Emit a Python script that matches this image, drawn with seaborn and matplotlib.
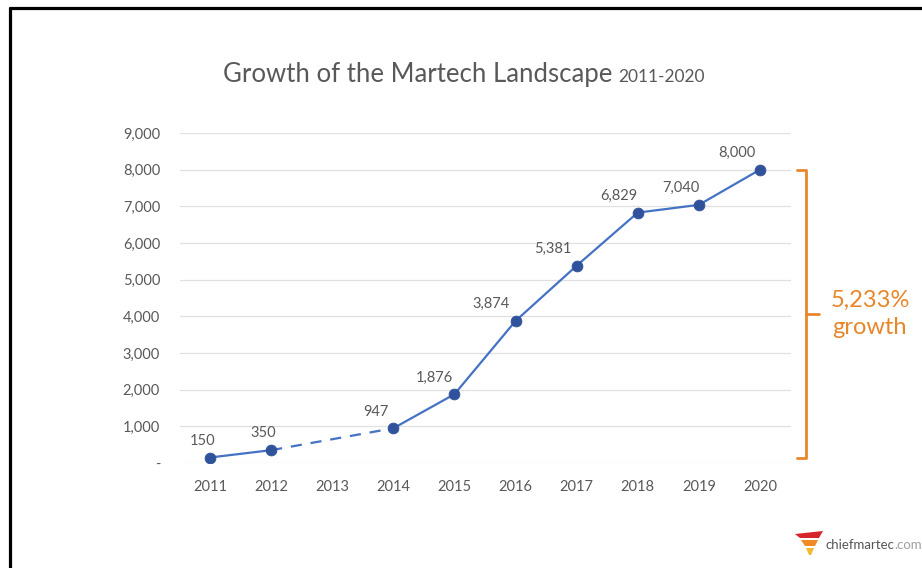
import numpy as np
import pandas as pd
import matplotlib
matplotlib.use("Agg")
import matplotlib.pyplot as plt
import seaborn as sns
from matplotlib.lines import Line2D
from matplotlib.patches import Polygon

# ─────────────────────────────────────────
# DATA
# ─────────────────────────────────────────
years = [2011, 2012, 2013, 2014, 2015, 2016, 2017, 2018, 2019, 2020]
solutions = [150, 350, np.nan, 947, 1876, 3874, 5381, 6829, 7040, 8000]
y_ticks = [0, 1000, 2000, 3000, 4000, 5000, 6000, 7000, 8000, 9000]
y_tick_labels = ["-", "1,000", "2,000", "3,000", "4,000", "5,000",
                 "6,000", "7,000", "8,000", "9,000"]
growth_label = "5,233%\ngrowth"

# label x offsets (px) so the numbers sit up-left of the dots
label_dx = [-7, -8, 0, -17, -20, -25, -24, -19, -18, -23]

df = pd.DataFrame({"year": years, "count": solutions})
# 2013 is missing -> two solid runs, joined by a dashed bridge
df["run"] = df["count"].isna().cumsum()
known = df.dropna()

# ─────────────────────────────────────────
# STYLE
# ─────────────────────────────────────────
sns.set_theme(style="white")
plt.rcParams["font.family"] = ["Lato", "DejaVu Sans"]

LINE = "#4472C4"
DOT = "#2F529B"
GREY = "#595959"
ORANGE = "#E8862A"

fig = plt.figure(figsize=(9.22, 5.68), dpi=100)
ax = fig.add_axes([179.5 / 922, 105 / 568, 611 / 922, 330 / 568])

sns.lineplot(data=known, x="year", y="count", units="run",
             estimator=None, ax=ax, color=LINE, linewidth=1.6, zorder=3)
bridge = known[known["year"].isin([2012, 2014])]
sns.lineplot(data=bridge, x="year", y="count", ax=ax, color=LINE,
             linewidth=1.6, linestyle=(0, (5, 4)), zorder=3)
sns.scatterplot(data=known, x="year", y="count", ax=ax, color=DOT,
                s=60, edgecolor=DOT, zorder=4)

for yr, val, dx in zip(years, solutions, label_dx):
    if np.isnan(val):
        continue
    ax.annotate(f"{int(val):,}", (yr, val), xytext=(dx * 0.72, 7),
                textcoords="offset points", ha="center", va="bottom",
                fontsize=10.5, color=GREY)

ax.set_xlim(years[0] - 0.5, years[-1] + 0.5)
ax.set_ylim(0, 9000)
ax.set_xticks(years)
ax.set_xticklabels([str(y) for y in years], fontsize=10.5, color=GREY)
ax.set_yticks(y_ticks)
ax.set_yticklabels(y_tick_labels, fontsize=10.5, color=GREY)
ax.tick_params(axis="both", length=0, pad=12)
ax.tick_params(axis="y", pad=14)
ax.grid(axis="y", color="#E0E0E0", linewidth=0.9)
ax.set_axisbelow(True)
ax.set_xlabel("")
ax.set_ylabel("")
for s in ax.spines.values():
    s.set_visible(False)

# orange brace from first value to last value
lo, hi = solutions[0], solutions[-1]
mid = (lo + hi) / 2
bx = years[-1] + 0.75
ax.plot([bx - 0.15, bx, bx, bx - 0.15], [hi, hi, lo, lo], color=ORANGE,
        linewidth=2, clip_on=False, solid_joinstyle="round")
ax.plot([bx, bx + 0.22], [mid, mid], color=ORANGE, linewidth=2,
        clip_on=False)
ax.text(years[-1] + 1.8, mid, growth_label, ha="center", va="center",
        fontsize=17, color=ORANGE, linespacing=1.35, clip_on=False)

# title
fig.text(612 / 922, 1 - 82 / 568, "Growth of the Martech Landscape",
         ha="right", va="baseline", fontsize=18.5, color=GREY)
fig.text(618 / 922, 1 - 82 / 568, "2011-2020", ha="left",
         va="baseline", fontsize=12.5, color=GREY)

# slide frame
fig.add_artist(Line2D([9.5 / 922, 1], [1 - 7.5 / 568, 1 - 7.5 / 568],
                      color="black", linewidth=2.3,
                      transform=fig.transFigure))
fig.add_artist(Line2D([9.5 / 922, 9.5 / 922], [0, 1 - 7.5 / 568],
                      color="black", linewidth=2.3,
                      transform=fig.transFigure))

# chiefmartec logo
def px(x, y):
    return (x / 922, 1 - y / 568)

for pts, col in [
    ([(795, 534), (823, 531), (819, 538), (800, 538)], "#D7262B"),
    ([(801, 540), (818, 540), (815, 546), (805, 546)], "#F08A24"),
    ([(806, 548), (814, 548), (811, 555), (809, 555)], "#F5B82E"),
]:
    fig.add_artist(Polygon([px(*p) for p in pts], closed=True,
                           facecolor=col, edgecolor="none",
                           transform=fig.transFigure))
brand = fig.text(*px(825, 545), "chiefmartec", ha="left", va="center",
                 fontsize=9.5, color="#555555")
fig.add_artist(plt.Annotation(".com", xy=(1, 0.5), xycoords=brand,
                              ha="left", va="center", fontsize=9.5,
                              color="#A0A0A0"))

fig.savefig("out.png", dpi=100)
